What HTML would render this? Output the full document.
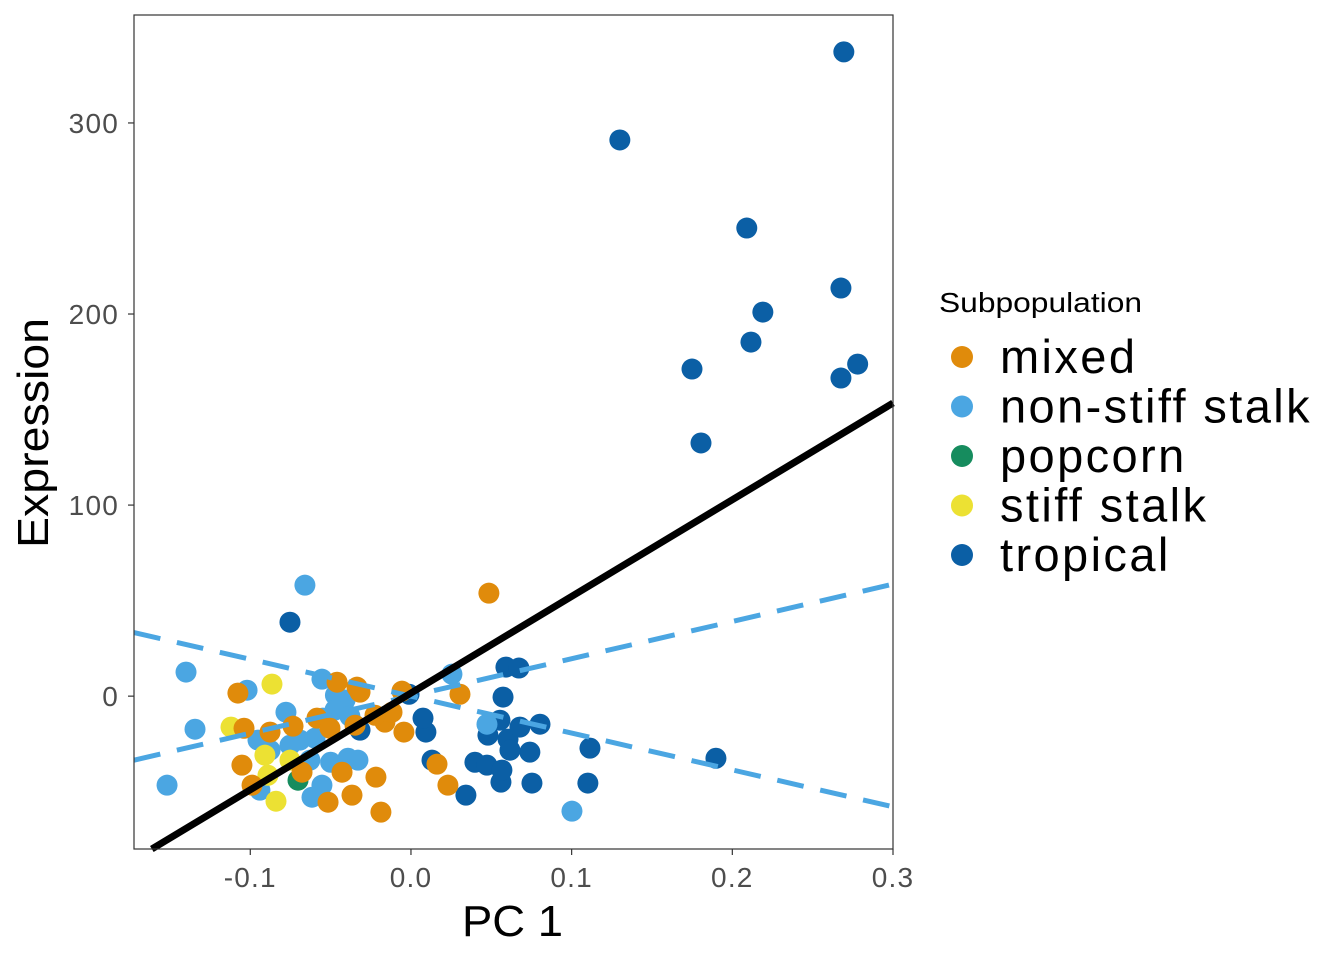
<!DOCTYPE html>
<html><head><meta charset="utf-8"><style>
body{margin:0;background:#fff;}
svg{display:block;font-family:"Liberation Sans",Arial,sans-serif;}
</style></head><body>
<svg id="chart" width="1344" height="960">
<g id="points"></g>
<g id="lines"></g>
<rect x="134" y="15" width="759" height="834" fill="none" stroke="#333" stroke-width="1.2"/>
<g id="axes"></g>
<text x="462" y="936" font-size="44" textLength="101" lengthAdjust="spacingAndGlyphs" fill="#000">PC 1</text>
<text transform="translate(48,548) rotate(-90)" font-size="44" textLength="230" lengthAdjust="spacingAndGlyphs" fill="#000">Expression</text>
<g>
<text x="939" y="312" font-size="28" textLength="203" lengthAdjust="spacingAndGlyphs" fill="#000">Subpopulation</text>
<g id="legend"></g>
</g>
</svg>
<script>
const categories=["tropical","non-stiff stalk","popcorn","stiff stalk","mixed"];
const colors={"mixed":"#e08b0b","non-stiff stalk":"#4ba6e2","popcorn":"#168c5e","stiff stalk":"#ece133","tropical":"#0b5fa5"};
const legendOrder=["mixed","non-stiff stalk","popcorn","stiff stalk","tropical"];
const tropicalX=[.2694,.130,.209,.2676,.219,.2116,.1749,.2676,.278,.1805,-.0753,.1898,.1114,.1101,.0342,.0753,.056,.0398,.0473,.0566,.0604,.0678,.0803,.074,.0616,.0479,.0573,.0591,.0672,.0093,.0075,.0131,-.0012,.0554,-.0317];
const tropicalY=[337.2,291.1,245.0,213.6,201.0,185.3,171.2,166.5,173.8,132.5,38.7,-32.5,-27.2,-45.5,-51.8,-45.5,-45.0,-34.6,-36.1,-38.7,-22.5,-16.2,-14.7,-29.3,-28.3,-20.4,-0.5,15.2,14.7,-18.8,-11.5,-33.5,1.0,-12.6,-17.8];
const nssX=[-.066,-.14,-.1344,-.1518,.1002,-.102,-.0554,-.047,-.041,-.0473,-.0778,-.0548,-.0952,-.0877,-.069,-.0597,-.0629,-.05,-.0392,-.033,-.0554,-.0616,-.094,.0255,.0473,-.038,-.0753];
const nssY=[58.1,12.6,-17.3,-46.6,-60.2,3.1,8.9,0.5,-2,-7.3,-8.4,-11.5,-23,-28.3,-23,-22,-33.5,-34.6,-32.5,-33.5,-46.6,-52.9,-49.2,11.5,-14.7,-10.5,-25.7];
const popX=[-.0703];
const popY=[-44];
const ssX=[-.0865,-.112,-.084,-.089,-.0909,-.0753];
const ssY=[6.3,-16.2,-55,-41.4,-30.9,-33.5];
const mixX=[.0485,-.1077,-.046,-.0336,-.0317,-.0056,.0305,-.1039,-.0877,-.0734,-.0348,-.0162,-.0118,-.0044,-.1052,-.0989,-.0678,-.0429,-.0367,-.0516,-.0218,-.0187,.0162,.0230,-.0585,-.0504,-.0224];
const mixY=[53.9,1.6,7.3,4.7,2.1,2.6,1.0,-16.8,-18.8,-15.7,-15.2,-13.6,-8.4,-18.8,-36.1,-46.6,-39.8,-39.8,-51.8,-55.5,-42.4,-60.7,-35.6,-46.6,-11.5,-16.8,-10];
const xTicks=[-0.1,0.0,0.1,0.2,0.3];
const xTickLabels=["-0.1","0.0","0.1","0.2","0.3"];
const yTicks=[0,100,200,300];
const yTickLabels=["0","100","200","300"];
const fitSlope=506, fitIntercept=1.6;
const upSlope=195, upIntercept=0.1;
const downSlope=-193, downIntercept=0;
const xMin=-0.17237,xMax=0.3,yMin=-80,yMax=356.5;
const L=134,R=893,T=15,B=849;
const sx=v=>L+(v-xMin)/(xMax-xMin)*(R-L);
const sy=v=>B-(v-yMin)/(yMax-yMin)*(B-T);
const NS="http://www.w3.org/2000/svg";
const pts=document.getElementById('points');
const series=[["tropical",tropicalX,tropicalY],["non-stiff stalk",nssX,nssY],["popcorn",popX,popY],["stiff stalk",ssX,ssY],["mixed",mixX,mixY]];
series.forEach(([name,xs,ys])=>{
  xs.forEach((x,i)=>{
    const c=document.createElementNS(NS,'circle');
    c.setAttribute('cx',sx(x));c.setAttribute('cy',sy(ys[i]));c.setAttribute('r',10.5);c.setAttribute('fill',colors[name]);
    
    
    pts.appendChild(c);
  });
});
const lines=document.getElementById('lines');
function addLine(m,b,color,w,dash,nm){
  const l=document.createElementNS(NS,'line');
  let x1=xMin,x2=xMax,y1=m*x1+b,y2=m*x2+b;
  if(y1<yMin){x1=(yMin-b)/m;y1=yMin;}
  if(y2<yMin){x2=(yMin-b)/m;y2=yMin;}
  l.setAttribute('x1',sx(x1));l.setAttribute('y1',sy(y1));l.setAttribute('x2',sx(x2));l.setAttribute('y2',sy(y2));
  l.setAttribute('stroke',color);l.setAttribute('stroke-width',w);
  if(dash)l.setAttribute('stroke-dasharray',dash);
  
  
  lines.appendChild(l);
}
addLine(upSlope,upIntercept,"#4ba6e2",5,"27,17","dashed-line-rising");
addLine(downSlope,downIntercept,"#4ba6e2",5,"27,17","dashed-line-falling");
addLine(fitSlope,fitIntercept,"#000",7,null,"regression-line");
const axes=document.getElementById('axes');
xTicks.forEach((v,i)=>{
  const t=document.createElementNS(NS,'line');
  t.setAttribute('x1',sx(v));t.setAttribute('x2',sx(v));t.setAttribute('y1',B);t.setAttribute('y2',B+6);t.setAttribute('stroke','#333');t.setAttribute('stroke-width',1.2);
  
  
  axes.appendChild(t);
  const tx=document.createElementNS(NS,'text');
  tx.setAttribute('x',sx(v));tx.setAttribute('y',B+38);tx.setAttribute('font-size',28);tx.setAttribute('letter-spacing',1.2);tx.setAttribute('text-anchor','middle');tx.setAttribute('fill','#4d4d4d');
  tx.textContent=xTickLabels[i];
  
  
  axes.appendChild(tx);
});
yTicks.forEach((v,i)=>{
  const t=document.createElementNS(NS,'line');
  t.setAttribute('x1',L-6);t.setAttribute('x2',L);t.setAttribute('y1',sy(v));t.setAttribute('y2',sy(v));t.setAttribute('stroke','#333');t.setAttribute('stroke-width',1.2);
  
  
  axes.appendChild(t);
  const tx=document.createElementNS(NS,'text');
  tx.setAttribute('x',L-15);tx.setAttribute('y',sy(v)+10);tx.setAttribute('font-size',28);tx.setAttribute('letter-spacing',1.2);tx.setAttribute('text-anchor','end');tx.setAttribute('fill','#4d4d4d');
  tx.textContent=yTickLabels[i];
  
  
  axes.appendChild(tx);
});
const lg=document.getElementById('legend');
legendOrder.forEach((name,i)=>{
  const y=357+i*49.5;
  const c=document.createElementNS(NS,'circle');
  c.setAttribute('cx',962);c.setAttribute('cy',y);c.setAttribute('r',11);c.setAttribute('fill',colors[name]);
  
  
  lg.appendChild(c);
  const t=document.createElementNS(NS,'text');
  t.setAttribute('x',1000);t.setAttribute('y',y+16);t.setAttribute('font-size',47);t.setAttribute('letter-spacing',2.4);t.setAttribute('fill','#000');
  t.textContent=name;
  
  
  lg.appendChild(t);
});
</script>
</body></html>
